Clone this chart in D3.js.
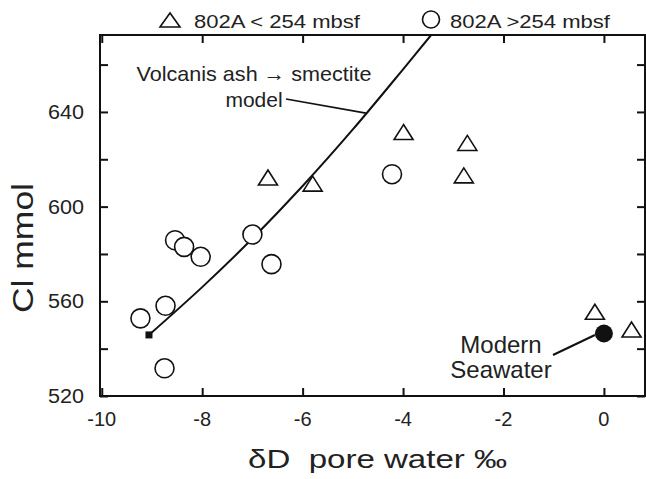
<!DOCTYPE html>
<html>
<head>
<meta charset="utf-8">
<script src="https://cdn.jsdelivr.net/npm/d3@7"></script>
<style>
  body { margin: 0; background: #fff; }
  text { font-family: "Liberation Sans", Arial, sans-serif; fill: #222; }
</style>
</head>
<body>
<script>
// data
var circX = [-9.23, -8.75, -8.73, -8.54, -8.36, -8.03, -7.00, -6.62, -4.22]; // 802A >254 mbsf
var circY = [552.8, 531.7, 558.1, 585.8, 583.0, 578.8, 588.2, 575.7, 613.7];
var triX = [-6.69, -5.80, -3.99, -2.72, -2.79, -0.18, 0.55]; // 802A <254 mbsf
var triY = [612.3, 609.7, 631.5, 626.9, 613.2, 555.6, 548.1];
var seaX = [0];          // modern seawater
var seaY = [546.4];
var modelX = [-9.06, -8, -7, -6, -5, -4, -3.44]; // ash -> smectite model
var modelY = [545.8, 566.0, 586.5, 608.7, 632.6, 658.0, 672.5];
var xTicks = [-10, -8, -6, -4, -2, 0];
var yTicks = [520, 540, 560, 580, 600, 620, 640, 660];
var yLabels = [520, 560, 600, 640];

var W = 646, H = 479;
var L = 100, R = 645, T = 35, B = 396;

var svg = d3.select("body").append("svg")
    .attr("width", W).attr("height", H);

var x = d3.scaleLinear().domain([-10.035, 0.818]).range([L, R]);
var y = d3.scaleLinear().domain([520, 672.5]).range([B, T]);

// frame
svg.append("rect")
    .attr("x", L).attr("y", T).attr("width", R - L).attr("height", B - T)
    .attr("fill", "none").attr("stroke", "#111").attr("stroke-width", 2);

// inward ticks on all sides
var tk = 8;
svg.append("g").call(d3.axisTop(x).tickValues(xTicks).tickSize(tk).tickFormat(""))
    .attr("transform", "translate(0," + B + ")");
svg.append("g").call(d3.axisBottom(x).tickValues(xTicks).tickSize(tk).tickFormat(""))
    .attr("transform", "translate(0," + T + ")");
svg.append("g").call(d3.axisRight(y).tickValues(yTicks).tickSize(tk).tickFormat(""))
    .attr("transform", "translate(" + L + ",0)");
svg.append("g").call(d3.axisLeft(y).tickValues(yTicks).tickSize(tk).tickFormat(""))
    .attr("transform", "translate(" + R + ",0)");
svg.selectAll(".domain").remove();
svg.selectAll(".tick line").attr("stroke", "#111").attr("stroke-width", 2);

// tick labels
svg.selectAll(".xl").data(xTicks).enter().append("text")
    .attr("x", function(d) { return x(d); }).attr("y", 426)
    .attr("text-anchor", "middle").attr("font-size", 20)
    .text(function(d) { return d; });
svg.selectAll(".yl").data(yLabels).enter().append("text")
    .attr("x", 84).attr("y", function(d) { return y(d) + 7; })
    .attr("text-anchor", "end").attr("font-size", 20)
    .attr("textLength", 36).attr("lengthAdjust", "spacingAndGlyphs")
    .text(function(d) { return d; });

// axis titles
svg.append("text")
    .attr("x", 248).attr("y", 468).attr("font-size", 26)
    .attr("textLength", 259).attr("lengthAdjust", "spacingAndGlyphs")
    .style("white-space", "pre")
    .text("\u03b4D  pore water \u2030");
svg.append("text")
    .attr("transform", "translate(33,248) rotate(-90)")
    .attr("text-anchor", "middle").attr("font-size", 30)
    .attr("textLength", 130).attr("lengthAdjust", "spacingAndGlyphs")
    .text("Cl mmol");

// model curve
var model = modelX.map(function(d, i) { return [d, modelY[i]]; });
svg.append("path").datum(model)
    .attr("d", d3.line().x(function(d) { return x(d[0]); }).y(function(d) { return y(d[1]); })
        .curve(d3.curveCatmullRom))
    .attr("fill", "none").attr("stroke", "#111").attr("stroke-width", 2);
svg.append("rect")
    .attr("x", x(modelX[0]) - 3.5).attr("y", y(modelY[0]) - 3.5)
    .attr("width", 7).attr("height", 7).attr("fill", "#111");

// circles
svg.selectAll(".c").data(circX).enter().append("circle")
    .attr("cx", function(d) { return x(d); })
    .attr("cy", function(d, i) { return y(circY[i]); })
    .attr("r", 9.5).attr("fill", "#fff").attr("stroke", "#111").attr("stroke-width", 1.6);

// triangles
function tri(cx, cy, w, h) {
  return "M" + cx + "," + (cy - h / 2) + "L" + (cx - w / 2) + "," + (cy + h / 2) +
         "L" + (cx + w / 2) + "," + (cy + h / 2) + "Z";
}
svg.selectAll(".t").data(triX).enter().append("path")
    .attr("d", function(d, i) { return tri(x(d), y(triY[i]), 19, 15); })
    .attr("fill", "none").attr("stroke", "#111").attr("stroke-width", 1.6)
    .attr("stroke-linejoin", "miter");

// modern seawater
svg.selectAll(".s").data(seaX).enter().append("circle")
    .attr("cx", function(d) { return x(d); })
    .attr("cy", function(d, i) { return y(seaY[i]); })
    .attr("r", 9).attr("fill", "#111");
svg.append("line")
    .attr("x1", 553).attr("y1", 355)
    .attr("x2", x(seaX[0]) - 9).attr("y2", y(seaY[0]) + 1.5)
    .attr("stroke", "#111").attr("stroke-width", 2);
svg.append("text").attr("x", 501).attr("y", 353).attr("text-anchor", "middle")
    .attr("font-size", 24).text("Modern");
svg.append("text").attr("x", 501).attr("y", 378).attr("text-anchor", "middle")
    .attr("font-size", 24).text("Seawater");

// model label
svg.append("text").attr("x", 254).attr("y", 81).attr("text-anchor", "middle")
    .attr("font-size", 21).attr("textLength", 235).attr("lengthAdjust", "spacingAndGlyphs")
    .text("Volcanis ash \u2192 smectite");
svg.append("text").attr("x", 254).attr("y", 107).attr("text-anchor", "middle")
    .attr("font-size", 21).text("model");
svg.append("line")
    .attr("x1", 286).attr("y1", 99)
    .attr("x2", x(-4.74)).attr("y2", y(639.5))
    .attr("stroke", "#111").attr("stroke-width", 1.6);

// legend
svg.append("path").attr("d", tri(170, 20, 20, 14))
    .attr("fill", "none").attr("stroke", "#111").attr("stroke-width", 1.6);
svg.append("text").attr("x", 194).attr("y", 28).attr("font-size", 19)
    .attr("textLength", 166).attr("lengthAdjust", "spacingAndGlyphs")
    .style("white-space", "pre")
    .text("802A < 254 mbsf");
svg.append("circle").attr("cx", 431).attr("cy", 19.5).attr("r", 8.5)
    .attr("fill", "none").attr("stroke", "#111").attr("stroke-width", 1.6);
svg.append("text").attr("x", 450).attr("y", 28).attr("font-size", 19)
    .attr("textLength", 160).attr("lengthAdjust", "spacingAndGlyphs")
    .text("802A >254 mbsf");
</script>
</body>
</html>
